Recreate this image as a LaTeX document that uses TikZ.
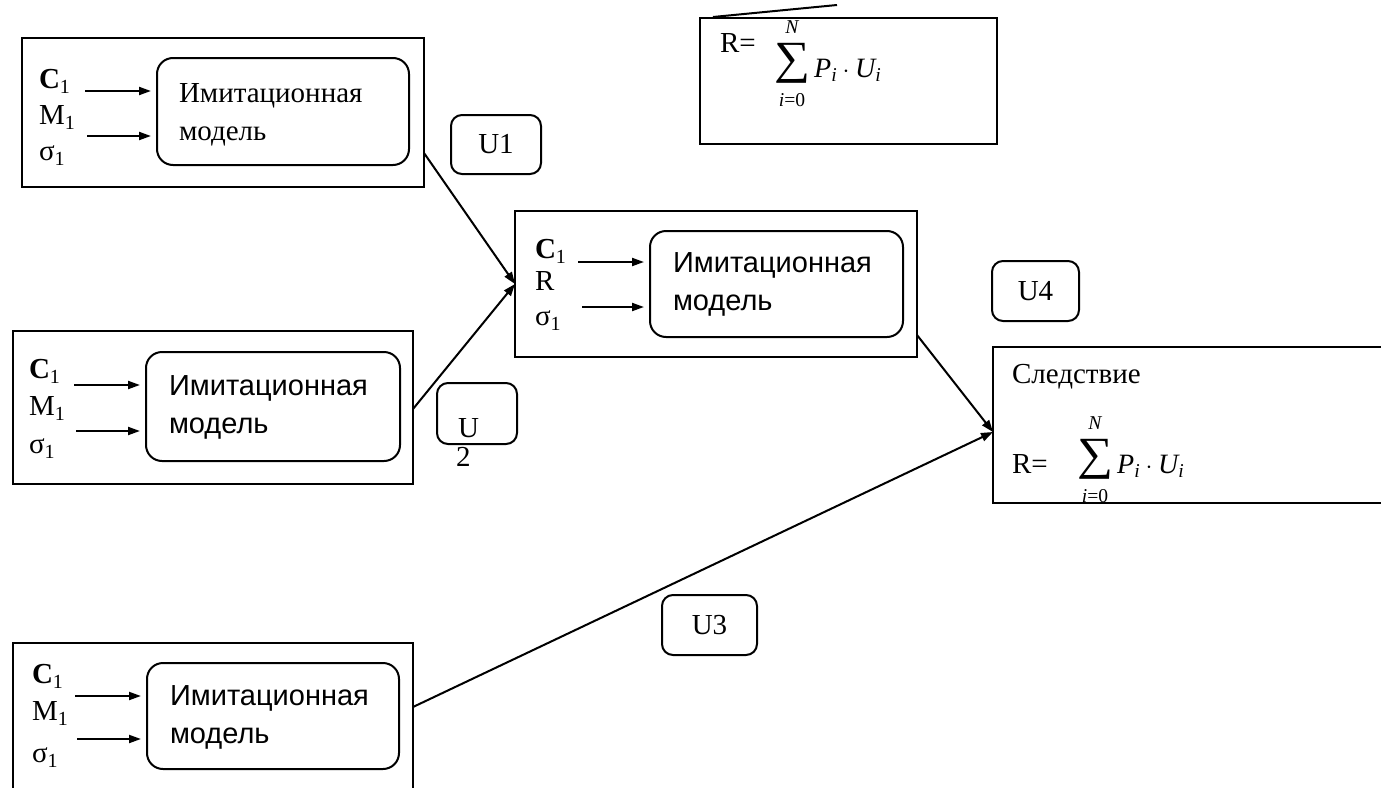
\documentclass[tikz,border=0pt]{standalone}
\usepackage{fontspec}
\usepackage{amsmath}
\usepackage{graphicx}
\setmainfont{Liberation Serif}
\setsansfont{Liberation Sans}
\usetikzlibrary{arrows.meta}

% body size and the small lowered index used next to C, M, sigma
\newcommand\bodysize{\fontsize{29}{34}\selectfont}
\newcommand\idx[1]{\raisebox{-5pt}{\fontsize{20}{20}\selectfont #1}}
\newcommand\vi[1]{\text{\itshape #1}}
% summation sign drawn at a fixed size (bottom 6pt under the baseline), limits above and below
\newcommand\bigsum{\mathop{\raisebox{-6pt}{\resizebox*{36pt}{40pt}{\raisebox{\depth}{\mbox{\upshape ∑}}}}}\limits}
\newcommand\sumexpr{\fontsize{28}{30}\selectfont
  $\bigsum_{\rule{0pt}{19pt}\vi{i}\text{=0}}^{\vi{N}\rule[-7pt]{0pt}{7pt}}\vi{P}_{\vi{i}}\cdot\vi{U}_{\vi{i}}$}

\begin{document}
\begin{tikzpicture}[x=1pt,y=-1pt,
  every node/.style={inner sep=0pt, outer sep=0pt},
  frame/.style={draw, line width=2pt},
  model/.style={draw, line width=2pt, rounded corners=16pt},
  tag/.style={draw, line width=2pt, rounded corners=11pt, font=\bodysize},
  txt/.style={anchor=base west, font=\bodysize},
  stxt/.style={anchor=base west, font=\bodysize\sffamily},
  feed/.style={line width=2pt, -{Triangle[length=12pt,width=8pt]}, shorten >=6pt},
  link/.style={line width=2pt, -{Triangle[length=12pt,width=8.5pt]}},
]
\useasboundingbox (0,0) rectangle (1381,787);
\clip (0,0) rectangle (1381,787);

% ---- upper-left block
\node[frame, minimum width=402pt, minimum height=149pt] (b1) at (223,112.5) {};
\node[model, minimum width=252pt, minimum height=107pt] (m1) at (283,111.5) {};
\node[txt] (c1) at (39,88) {\textbf{C}\idx{1}};
\node[txt] (x1) at (39,124) {M\idx{1}};
\node[txt] (s1) at (39,160) {σ\idx{1}};
\node[txt] (t1a) at (179,102) {Имитационная};
\node[txt] (t1b) at (179,140) {модель};
\coordinate (a1) at (85,91);
\coordinate (a2) at (87,136);
\draw[feed] (a1) -- (a1 -| m1.west);
\draw[feed] (a2) -- (a2 -| m1.west);

% ---- middle block
\node[frame, minimum width=402pt, minimum height=146pt] (b3) at (716,284) {};
\node[model, minimum width=253pt, minimum height=106pt] (m3) at (776.5,284) {};
\node[txt] (c3) at (535,258) {\textbf{C}\idx{1}};
\node[txt] (x3) at (535,290) {R};
\node[txt] (s3) at (535,325) {σ\idx{1}};
\node[stxt] (t3a) at (673,272) {Имитационная};
\node[stxt] (t3b) at (673,310) {модель};
\coordinate (a5) at (578,262);
\coordinate (a6) at (582,307);
\draw[feed] (a5) -- (a5 -| m3.west);
\draw[feed] (a6) -- (a6 -| m3.west);

% ---- left block, second row
\node[frame, minimum width=400pt, minimum height=153pt] (b4) at (213,407.5) {};
\node[model, minimum width=254pt, minimum height=109pt] (m4) at (273,406.5) {};
\node[txt] (c4) at (29,378) {\textbf{C}\idx{1}};
\node[txt] (x4) at (29,415) {M\idx{1}};
\node[txt] (s4) at (29,453) {σ\idx{1}};
\node[stxt] (t4a) at (169,395) {Имитационная};
\node[stxt] (t4b) at (169,433) {модель};
\coordinate (a7) at (74,385);
\coordinate (a8) at (76,431);
\draw[feed] (a7) -- (a7 -| m4.west);
\draw[feed] (a8) -- (a8 -| m4.west);

% ---- left block, bottom row
\node[frame, minimum width=400pt, minimum height=157pt] (b5) at (213,721.5) {};
\node[model, minimum width=252pt, minimum height=106pt] (m5) at (273,716) {};
\node[txt] (c5) at (32,683) {\textbf{C}\idx{1}};
\node[txt] (x5) at (32,720) {M\idx{1}};
\node[txt] (s5) at (32,762) {σ\idx{1}};
\node[stxt] (t5a) at (170,705) {Имитационная};
\node[stxt] (t5b) at (170,743) {модель};
\coordinate (a9) at (75,696);
\coordinate (a10) at (77,739);
\draw[feed] (a9) -- (a9 -| m5.west);
\draw[feed] (a10) -- (a10 -| m5.west);

% ---- formula box at the top
\node[frame, minimum width=297pt, minimum height=126pt] (f) at (848.5,81) {};
\node[txt] (fr) at (720,52) {R=};
\node[anchor=base west] (fs) at (774,77) {\sumexpr};
\coordinate (s0) at (837,5);
\draw[line width=2pt] ([xshift=13pt,yshift=1pt]f.north west) -- (s0);

% ---- result box
\node[frame, minimum width=402pt, minimum height=156pt] (r) at (1194,425) {};
\node[txt] (rt) at (1012,383) {Следствие};
\node[txt] (rr) at (1012,473) {R=};
\node[anchor=base west] (rs) at (1077,473) {\sumexpr};

% ---- value tags
\node[tag, minimum width=90pt, minimum height=59pt] (u1) at (496,144.5) {U1};
\node[tag, minimum width=87pt, minimum height=60pt] (u4) at (1035.5,291) {U4};
\node[tag, minimum width=95pt, minimum height=60pt] (u3) at (709.5,625) {U3};
\node[tag, minimum width=80pt, minimum height=61pt] (u2) at (477,413.5) {};
\node[txt] (u2a) at (458,437) {U};
\node[txt] (u2b) at (456,466) {2};

% ---- connectors between blocks
\draw[link] ([yshift=-40.5pt]b1.east) -- (b3.west);
\draw[link] ([yshift=-1.5pt]b4.east) -- (b3.west);
\draw[link] ([yshift=-51pt]b3.east) -- ([yshift=-7pt]r.west);
\draw[link] ([yshift=14.5pt]b5.east) -- ([yshift=-7pt]r.west);
\end{tikzpicture}
\end{document}
